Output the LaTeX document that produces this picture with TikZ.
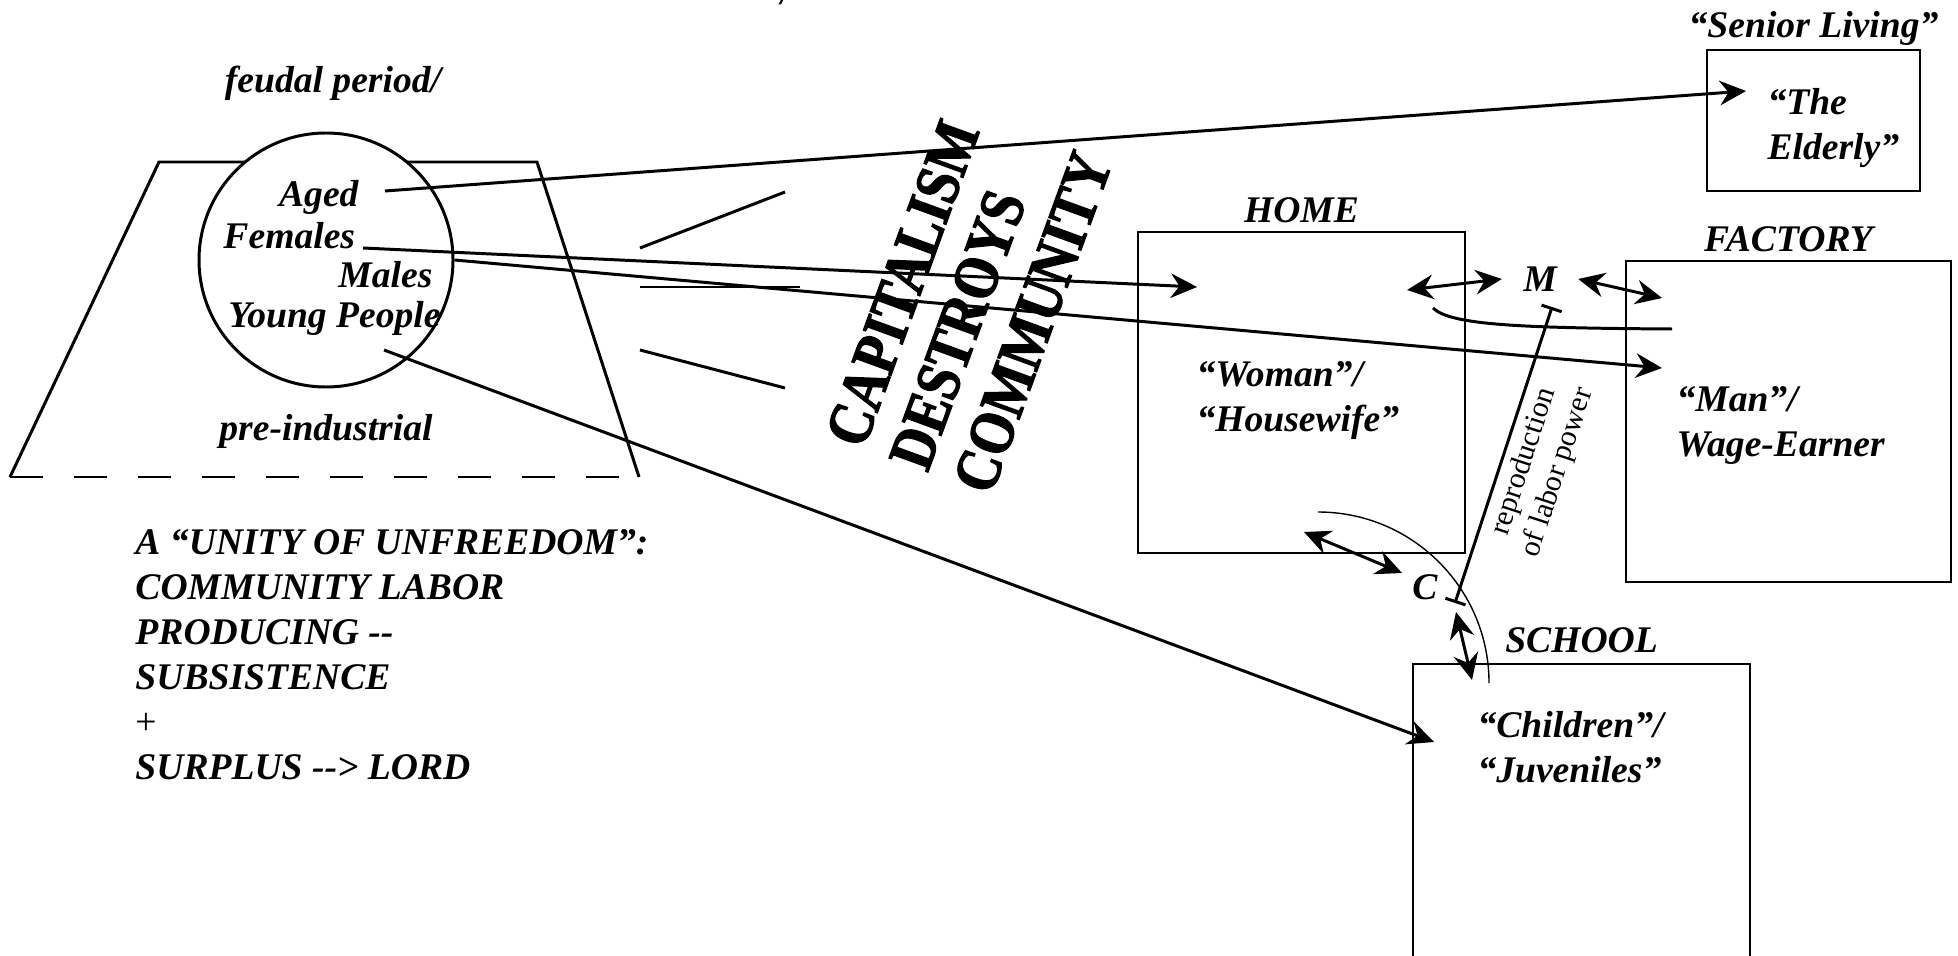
\documentclass[tikz,border=0pt]{standalone}
\usepackage{fontspec}
\setmainfont{Liberation Serif}
\newfontfamily\heavyfont{Liberation Serif}[FakeStretch=0.85, FakeBold=2]
\usetikzlibrary{shapes,arrows.meta,positioning}
\newcommand{\tagfont}{\fontsize{10.7}{12.8}\selectfont\bfseries\itshape}
\newcommand{\bigfont}{\heavyfont\fontsize{18}{19.3}\selectfont\bfseries}
\newcommand{\notefont}{\fontsize{8.5}{10}\selectfont}
\tikzstyle{box} = [rectangle, draw, line width=0.8pt, inner sep=0pt]
\tikzstyle{tag} = [font=\tagfont]
\tikzstyle{member} = [font=\tagfont, inner sep=0pt]
\tikzstyle{line} = [draw, -{Stealth[length=7.5pt, width=7pt, inset=2.5pt]}]
\tikzstyle{both} = [draw, {Stealth[length=7.5pt, width=7pt, inset=2.5pt]}-{Stealth[length=7.5pt, width=7pt, inset=2.5pt]}]

\begin{document}
\begin{tikzpicture}[line width=0.85pt]
    \useasboundingbox (0,0) rectangle (19.58,9.55);
    % Old community
    \draw (0.10,4.78) -- (1.59,7.93) -- (5.37,7.93) -- (6.39,4.78);
    \draw [dash pattern=on 0.33cm off 0.31cm] (0.10,4.78) -- (6.20,4.78);
    \node [circle, draw, fill=white, minimum size=2.54cm, inner sep=0pt] (group) at (3.26,6.95) {};
    \node [member, anchor=south] (cut) at (7.86,9.49) {/};
    \node [member, anchor=base] (feudal) at (3.33,8.62) {feudal period/};
    \node [member, anchor=base east] (aged) at (3.60,7.48) {Aged};
    \node [member, anchor=base west] (females) at (2.22,7.06) {Females};
    \node [member, anchor=base east] (males) at (4.34,6.68) {Males};
    \node [member, anchor=base west] (young) at (2.27,6.27) {Young People};
    \node [member, anchor=base] (preind) at (3.26,5.15) {pre-industrial};
    \node [member, align=left, anchor=north west] (unity) at (1.34,4.27)
        {A “UNITY OF UNFREEDOM”:\\COMMUNITY LABOR\\PRODUCING -{}-\\SUBSISTENCE\\{\mdseries\upshape +}\\SURPLUS -{}-> LORD};

    % Break
    \draw (6.40,7.07) -- (7.85,7.63);
    \draw (6.40,6.68) -- (8.00,6.68);
    \draw (6.40,6.05) -- (7.85,5.67);
    \node [font=\bigfont, align=left, rotate=70, inner sep=0pt] (slogan) at (9.69,6.56)
        {CAPITALISM\\DESTROYS\\COMMUNITY};

    % Institutions
    \node [box, minimum width=2.13cm, minimum height=1.41cm] (elderly) at (18.135,8.345) {};
    \node [box, minimum width=3.27cm, minimum height=3.21cm] (home) at (13.015,5.625) {};
    \node [box, minimum width=3.25cm, minimum height=3.21cm] (factory) at (17.885,5.335) {};
    \node [box, minimum width=3.37cm, minimum height=2.96cm] (school) at (15.815,1.43) {};
    \node [tag, above=-3pt of elderly] (seniorname) {“Senior Living”};
    \node [tag, above=-1.5pt of home] (homename) {HOME};
    \node [tag, above=-1.5pt of factory] (factoryname) {FACTORY};
    \node [tag, above=-1pt of school] (schoolname) {SCHOOL};
    \node [member, align=left, anchor=north west] (old) at (17.66,8.68) {“The\\Elderly”};
    \node [member, align=left, anchor=north west] (woman) at (11.95,5.95) {“Woman”/\\“Housewife”};
    \node [member, align=left, anchor=north west] (man) at (16.75,5.70) {“Man”/\\Wage-Earner};
    \node [member, align=left, anchor=north west] (child) at (14.76,2.45) {“Children”/\\“Juveniles”};
    \node [tag, inner sep=0.2cm] (m) at (15.40,6.76) {M};
    \node [tag] (c) at (14.25,3.68) {C};

    % Free ends
    \coordinate (agedout) at (3.85,7.64);
    \coordinate (femout) at (3.63,7.07);
    \coordinate (youngout) at (3.84,6.05);
    \coordinate (oldin) at (17.46,8.64);
    \coordinate (womanin) at (11.97,6.68);
    \coordinate (manin) at (16.62,5.87);
    \coordinate (childin) at (14.34,2.13);
    \coordinate (homem) at (14.07,6.65);
    \coordinate (factm) at (16.62,6.57);
    \coordinate (homec) at (13.04,4.23);
    \coordinate (cin) at (14.02,3.82);
    \coordinate (cout) at (14.56,3.43);
    \coordinate (schoolc) at (14.72,2.75);
    \coordinate (mfoot) at (15.52,6.48);
    \coordinate (cfoot) at (14.55,3.52);
    \coordinate (hook) at (14.33,6.47);
    \coordinate (hookend) at (16.72,6.26);
    \coordinate (arcstart) at (13.18,4.43);

    % Draw edges
    \path [line] (agedout) -- (oldin);
    \path [line] (femout) -- (womanin);
    \path [line] (group.east) -- (manin);
    \path [line] (youngout) -- (childin);
    \path [both] (homem) -- (m.west);
    \path [both] (m.east) -- (factm);
    \path [both] (homec) -- (cin);
    \path [both] (cout) -- (schoolc);
    \draw (hook) .. controls (14.50,6.30) and (15.20,6.27) .. (hookend);
    \draw [line width=0.4pt] (arcstart) arc [start angle=90, end angle=0, radius=1.71];
    \path [draw, {Bar[width=6pt]}-{Bar[width=6pt]}] (cfoot) -- node [midway, sloped, below, font=\notefont, align=center, inner sep=2pt] (repro) {reproduction\\of labor power} (mfoot);
\end{tikzpicture}
\end{document}
